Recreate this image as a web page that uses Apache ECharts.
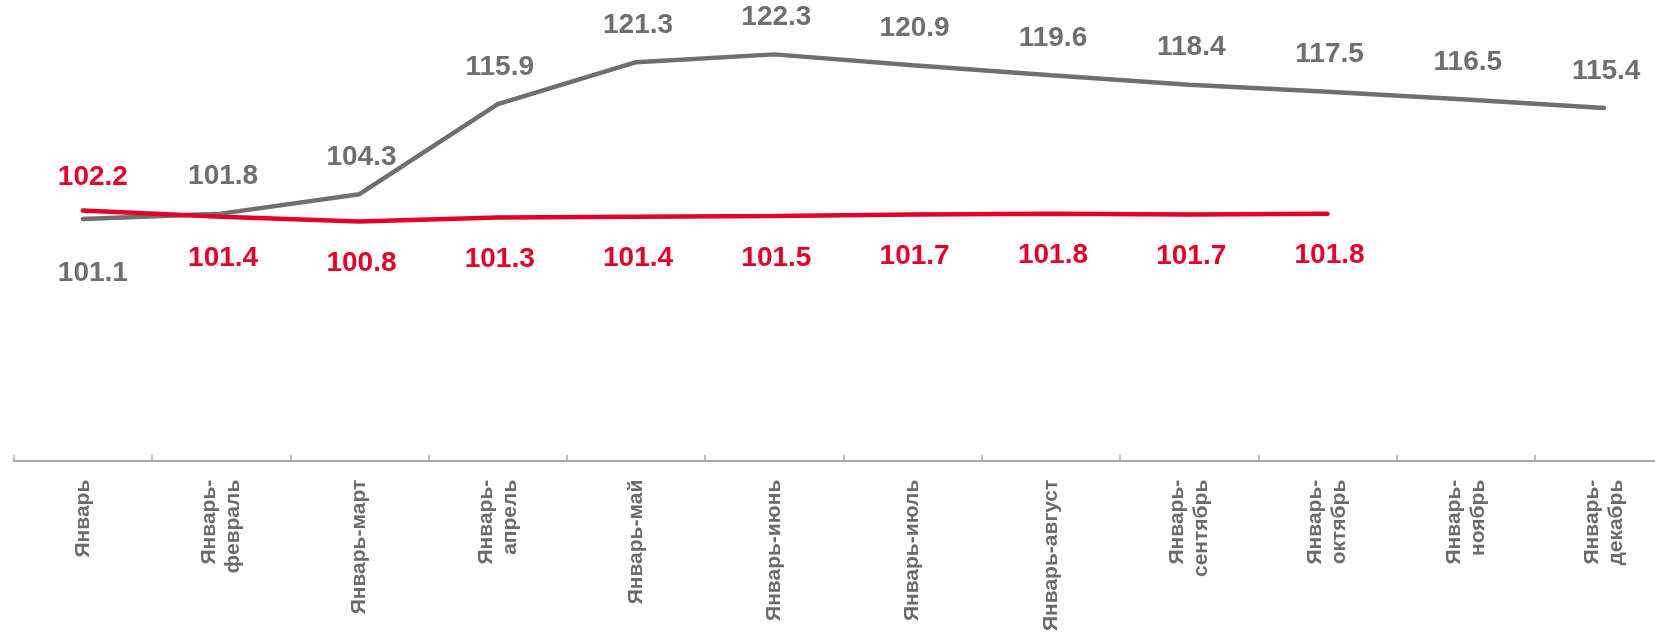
<!DOCTYPE html>
<html>
<head>
<meta charset="utf-8">
<script src="https://cdn.jsdelivr.net/npm/echarts@6/dist/echarts.min.js"></script>
<style>
  html, body { margin: 0; padding: 0; background: #fff; overflow: hidden; }
  #wrap { width: 1655px; height: 635px; overflow: hidden; position: relative; }
  /* последняя категория обрезана правым краем, поэтому холст шире окна */
  #main { width: 1680px; height: 635px; position: absolute; left: 0; top: 0; }
</style>
</head>
<body>
<div id="wrap"><div id="main"></div></div>
<script>
// периоды нарастающим итогом
var categories = [
  'Январь', 'Январь-\nфевраль', 'Январь-март', 'Январь-\nапрель', 'Январь-май',
  'Январь-июнь', 'Январь-июль', 'Январь-август', 'Январь-\nсентябрь',
  'Январь-\nоктябрь', 'Январь-\nноябрь', 'Январь-\nдекабрь'
];
var grayValues = [101.1, 101.8, 104.3, 115.9, 121.3, 122.3, 120.9, 119.6, 118.4, 117.5, 116.5, 115.4];
var redValues = [102.2, 101.4, 100.8, 101.3, 101.4, 101.5, 101.7, 101.8, 101.7, 101.8];

var GRAY = '#6f6f6f';
var RED = '#e2002b';
var FONT = 'Liberation Sans, Arial, sans-serif';

var chart = echarts.init(document.getElementById('main'));

// первая точка каждой линии подписана с другой стороны
var grayData = grayValues.map(function (v, i) {
  if (i === 0) return { value: v, label: { position: 'bottom', distance: 40, offset: [10, 0] } };
  return v;
});
var redData = redValues.map(function (v, i) {
  if (i === 0) return { value: v, label: { position: 'top', distance: 19, offset: [10, 0] } };
  return v;
});

function valueLabel(color, position, distance) {
  return {
    show: true,
    position: position,
    distance: distance,
    offset: [2, 0],
    color: color,
    fontFamily: FONT,
    fontWeight: 'bold',
    fontSize: 28,
    formatter: function (p) { return p.value.toFixed(1); }
  };
}

var option = {
  animation: false,
  grid: {
    left: 13.7, top: 33.4, width: 1659.6, height: 427.3,
    outerBoundsMode: 'none'
  },
  xAxis: {
    type: 'category',
    data: categories,
    boundaryGap: true,
    axisLine: { show: true, lineStyle: { color: '#a9a9a9', width: 2 } },
    axisTick: { show: true, inside: true, length: 6, lineStyle: { color: '#a9a9a9', width: 1.5 } },
    axisLabel: {
      interval: 0,
      rotate: 90,
      margin: 19,
      color: '#6b6b6b',
      fontFamily: FONT,
      fontWeight: 'bold',
      fontSize: 21,
      lineHeight: 24
    }
  },
  yAxis: {
    type: 'value',
    min: 70,
    max: 125,
    show: false,
    splitLine: { show: false }
  },
  series: [
    {
      name: 'gray',
      type: 'line',
      data: grayData,
      symbol: 'circle',
      symbolSize: 0,
      lineStyle: { color: GRAY, width: 4.5, cap: 'round' },
      itemStyle: { color: GRAY },
      label: valueLabel(GRAY, 'top', 23),
      z: 2
    },
    {
      name: 'red',
      type: 'line',
      data: redData,
      symbol: 'circle',
      symbolSize: 0,
      lineStyle: { color: RED, width: 4.5, cap: 'round' },
      itemStyle: { color: RED },
      label: valueLabel(RED, 'bottom', 28),
      z: 3
    }
  ]
};

chart.setOption(option);
</script>
</body>
</html>
